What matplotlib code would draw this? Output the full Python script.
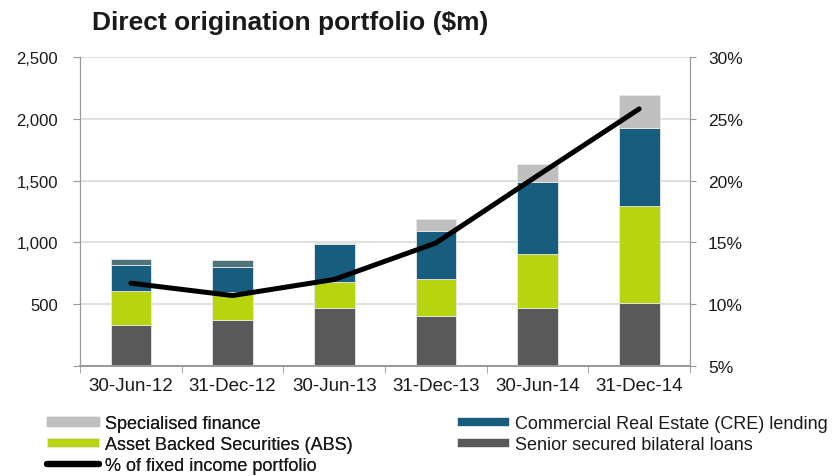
import numpy as np
import matplotlib
matplotlib.use("Agg")
from matplotlib import pyplot as plt

plt.rcParams['font.family'] = ['Liberation Sans', 'DejaVu Sans']

dates = ["30-Jun-12", "31-Dec-12", "30-Jun-13", "31-Dec-13", "30-Jun-14", "31-Dec-14"]
senior = [334, 372, 472, 407, 472, 512]
abs_sec = [275, 224, 205, 294, 434, 785]
cre = [211, 207, 307, 394, 580, 629]
specialised = [46, 52, 8, 92, 146, 269]
fixed_income_pct = [11.7, 10.7, 12.0, 14.95, 20.4, 25.8]

c_senior = "#595959"
c_abs = "#b8d40e"
c_cre = "#175e7e"
c_spec = "#bfbfbf"
# the top segment renders darker in the first two periods
spec_colors = ["#4f737b", "#4f737b", c_spec, c_spec, c_spec, c_spec]
txt = "#1a1a1a"

fig = plt.figure(figsize=(8.38, 4.77), dpi=100)
ax = fig.add_axes([80 / 838, 1 - 367 / 477, 610 / 838, 309 / 477])
ax2 = ax.twinx()

x = np.arange(len(dates))
w = 0.4
ec = dict(edgecolor="#e8e8e8", linewidth=0.6)
b1 = ax.bar(x, senior, w, color=c_senior, zorder=2, **ec)
bottom = np.array(senior, dtype=float)
b2 = ax.bar(x, abs_sec, w, bottom=bottom, color=c_abs, zorder=2, **ec)
bottom += abs_sec
b3 = ax.bar(x, cre, w, bottom=bottom, color=c_cre, zorder=2, **ec)
bottom += cre
b4 = ax.bar(x, specialised, w, bottom=bottom, color=spec_colors, zorder=2, **ec)

ln, = ax2.plot(x, fixed_income_pct, color="black", lw=3.6, solid_capstyle="round")

ax.set_xlim(-0.5, len(dates) - 0.5)
ax.set_ylim(0, 2500)
ax.set_yticks([0, 500, 1000, 1500, 2000, 2500])
ax.set_yticklabels(["", "500", "1,000", "1,500", "2,000", "2,500"])
ax2.set_ylim(5, 30)
ax2.set_yticks([5, 10, 15, 20, 25, 30])
ax2.set_yticklabels([f"{v}%" for v in [5, 10, 15, 20, 25, 30]])

ax.set_xticks(x)
ax.set_xticklabels(dates)
ax.set_xticks(np.arange(-0.5, len(dates)), minor=True)
ax.tick_params(axis="x", which="major", length=0, pad=8, labelsize=13.5)
ax.tick_params(axis="x", which="minor", length=5, color="#999999")
ax.tick_params(axis="y", length=5, color="#999999", pad=11, labelsize=12)
ax2.tick_params(axis="y", length=4, color="#999999", pad=9, labelsize=12.5)
for a in (ax, ax2):
    a.tick_params(labelcolor=txt)

ax.yaxis.grid(True, color="#d9d9d9", lw=1.2, zorder=0)
ax.set_axisbelow(True)
for a in (ax, ax2):
    a.spines["top"].set_visible(False)
    a.spines["left"].set_color("#999999")
    a.spines["right"].set_color("#999999")
    a.spines["bottom"].set_color("#999999")
    a.spines["bottom"].set_linewidth(1.2)

fig.text(92 / 838, 1 - 30 / 477, "Direct origination portfolio ($m)", fontsize=19,
         fontweight="bold", color=txt, va="baseline", ha="left")

spec_handle = plt.Rectangle((0, 0), 1, 1, color=c_spec)
leg_kw = dict(loc="upper left", frameon=False, fontsize=13, handlelength=2.9,
              handleheight=0.45, handletextpad=0.3, labelspacing=0.22,
              borderaxespad=0, borderpad=0)
leg1 = fig.legend([spec_handle, b2, ln],
                  ["Specialised finance", "Asset Backed Securities (ABS)", "% of fixed income portfolio"],
                  bbox_to_anchor=(47 / 838, 1 - 416 / 477), **leg_kw)
fig.add_artist(leg1)
leg2 = fig.legend([b3, b1],
                  ["Commercial Real Estate (CRE) lending", "Senior secured bilateral loans"],
                  bbox_to_anchor=(457 / 838, 1 - 416 / 477), **leg_kw)
for lg in (leg1, leg2):
    for t in lg.get_texts():
        t.set_color(txt)
leg1.get_lines()[0].set_linewidth(4.5)

fig.savefig("out.png", dpi=100)
